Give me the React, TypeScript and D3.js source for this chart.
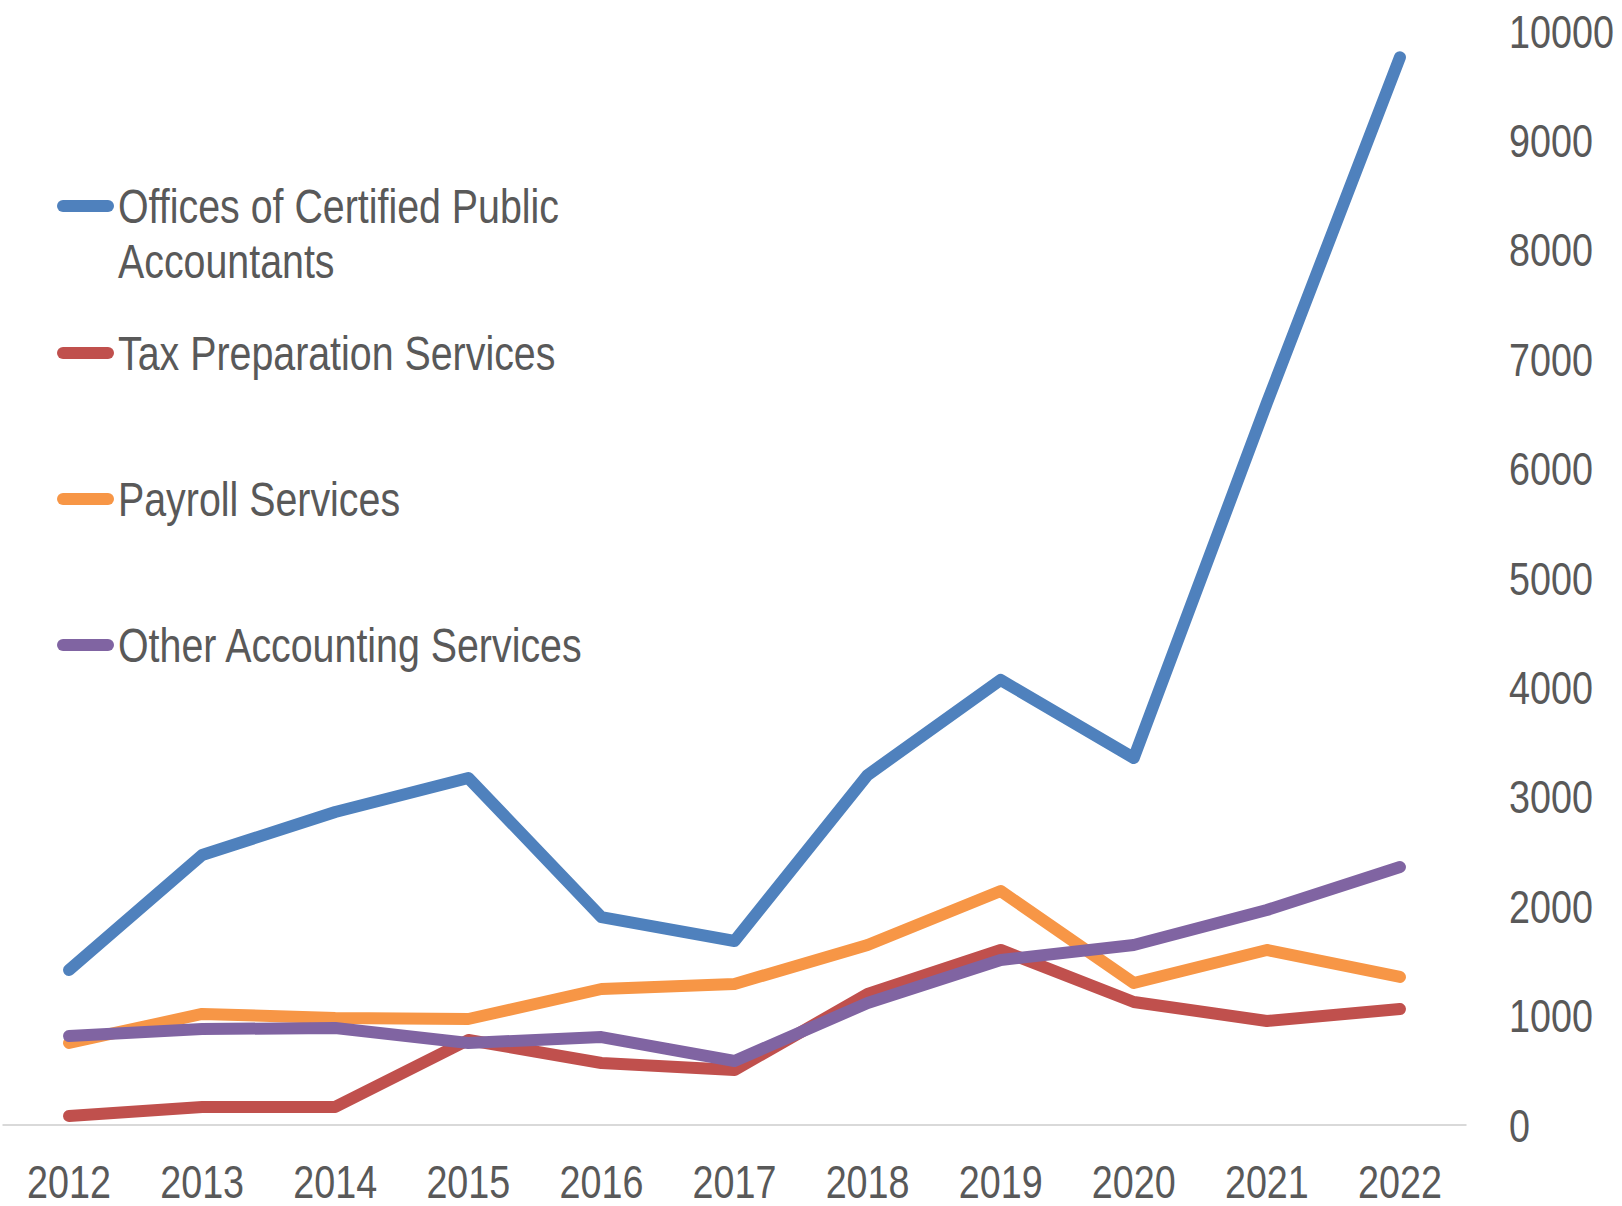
import React from 'react';
import * as d3 from 'd3';

const years = ['2012', '2013', '2014', '2015', '2016', '2017', '2018', '2019', '2020', '2021', '2022'];

const cpaOffices = [1417, 2468, 2861, 3172, 1901, 1682, 3199, 4068, 3355, 6600, 9760];
const taxPrep = [82, 165, 165, 777, 567, 503, 1197, 1600, 1124, 951, 1060];
const payroll = [750, 1015, 978, 969, 1243, 1289, 1645, 2139, 1298, 1600, 1353];
const otherAccounting = [814, 877, 887, 750, 804, 585, 1115, 1508, 1645, 1965, 2358];

const yTicks = [0, 1000, 2000, 3000, 4000, 5000, 6000, 7000, 8000, 9000, 10000];

const series = [
  { name: 'Offices of Certified Public Accountants', lines: ['Offices of Certified Public', 'Accountants'], values: cpaOffices, color: '#4F81BD', legendY: 206 },
  { name: 'Tax Preparation Services', lines: ['Tax Preparation Services'], values: taxPrep, color: '#C0504D', legendY: 353 },
  { name: 'Payroll Services', lines: ['Payroll Services'], values: payroll, color: '#F79646', legendY: 499 },
  { name: 'Other Accounting Services', lines: ['Other Accounting Services'], values: otherAccounting, color: '#8064A2', legendY: 645 },
];

const W = 1622;
const H = 1206;
// no narrow face installed, so squeeze Liberation Sans horizontally instead
const FONT = '"Liberation Sans", Arial, sans-serif';
const SQ = 0.82;
const TEXT = '#595959';

const Label: React.FC<{ x: number; y: number; size: number; anchor?: string; children: React.ReactNode }> =
  ({ x, y, size, anchor = 'start', children }) => (
    <text transform={`translate(${x},${y}) scale(${SQ},1)`} textAnchor={anchor}
      fontFamily={FONT} fontSize={size} fill={TEXT}>
      {children}
    </text>
  );

const App: React.FC = () => {
  const x = d3.scalePoint<string>().domain(years).range([2.5, 1466.5]).padding(0.5);
  const y = d3.scaleLinear().domain([0, 10000]).range([1125, 31]);

  const line = d3.line<number>()
    .x((_, i) => x(years[i]) as number)
    .y(d => y(d));

  return (
    <svg width={W} height={H} style={{ position: 'absolute', left: 0, top: 0, background: '#fff' }}>
      {/* baseline */}
      <line x1={2.5} x2={1466.5} y1={y(0)} y2={y(0)} stroke="#D9D9D9" strokeWidth={2} />

      {/* right axis labels */}
      {yTicks.map(t => (
        <Label key={t} x={1509} y={y(t) + 16.5} size={46}>{t}</Label>
      ))}

      {/* category labels */}
      {years.map(yr => (
        <Label key={yr} x={x(yr) as number} y={1197.5} size={46} anchor="middle">{yr}</Label>
      ))}

      {/* series */}
      {series.map(s => (
        <path key={s.name} d={line(s.values) || ''} fill="none" stroke={s.color}
          strokeWidth={12} strokeLinejoin="round" strokeLinecap="round" />
      ))}

      {/* legend */}
      {series.map(s => (
        <g key={'lg-' + s.name}>
          <line x1={63} x2={108} y1={s.legendY} y2={s.legendY} stroke={s.color} strokeWidth={12} strokeLinecap="round" />
          {s.lines.map((ln, i) => (
            <Label key={i} x={118} y={s.legendY + i * 55 + 17} size={48}>{ln}</Label>
          ))}
        </g>
      ))}
    </svg>
  );
};

export default App;
